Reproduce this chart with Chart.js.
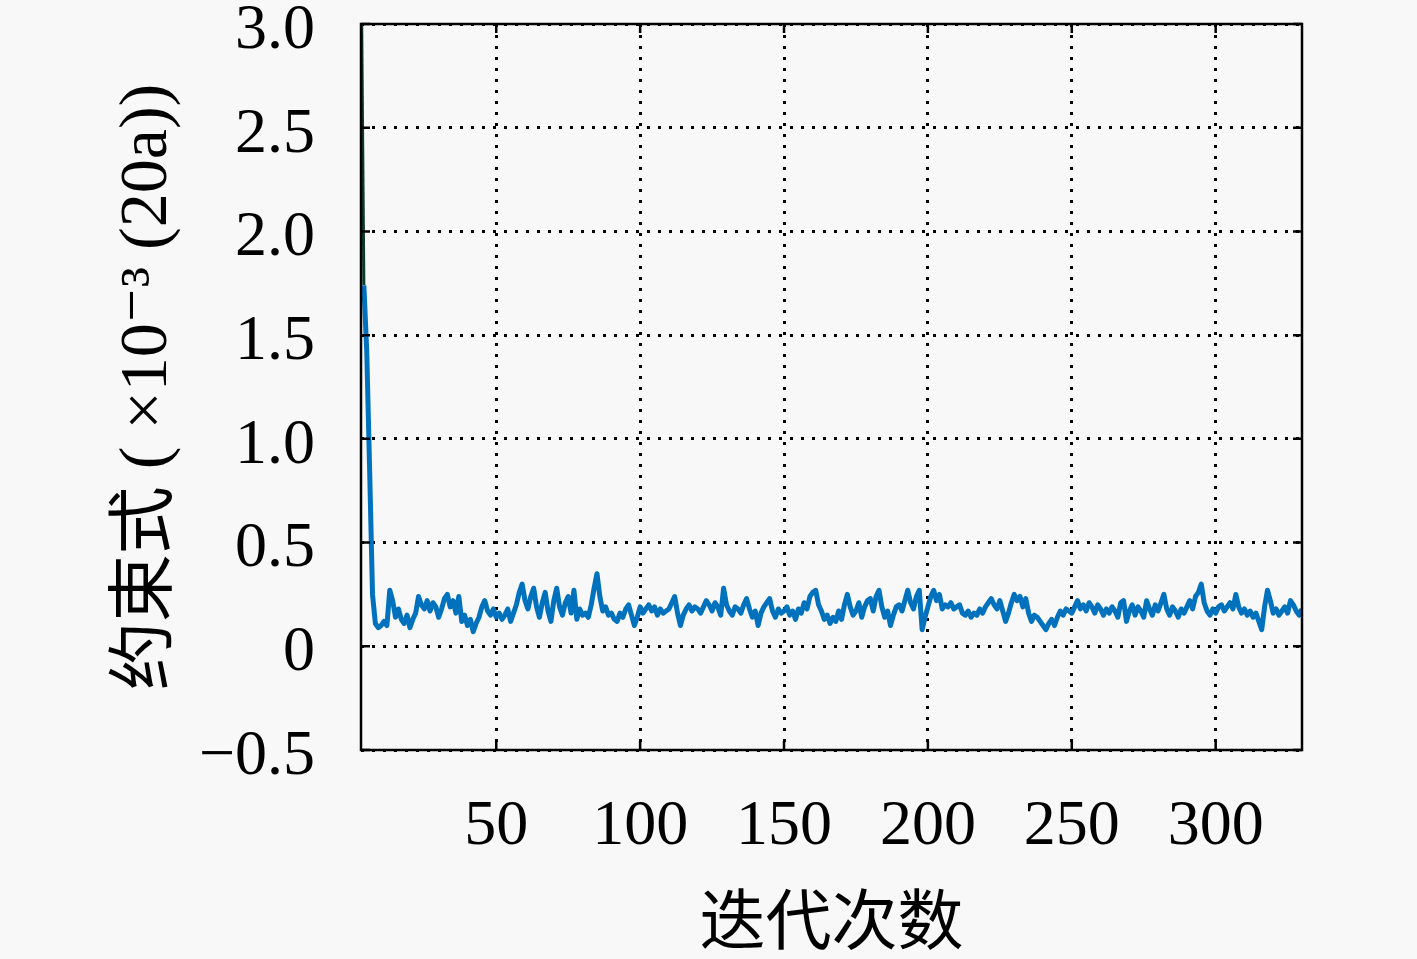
<!DOCTYPE html>
<html>
<head>
<meta charset="utf-8">
<script src="https://cdn.jsdelivr.net/npm/chart.js@4"></script>
<style>
html,body{margin:0;padding:0;background:#f8f8f8;}
#wrap{width:1417px;height:959px;}
</style>
</head>
<body>
<div id="wrap"><canvas id="c" width="1417" height="959"></canvas></div>
<script>
const firstIteration = 3;
const constraintValues = [
  3.4, 1.74, 1.42, 0.85, 0.25, 0.11, 0.09, 0.10,
  0.12, 0.10, 0.27, 0.22, 0.14, 0.18, 0.13, 0.11, 0.15, 0.09,
  0.13, 0.16, 0.24, 0.20, 0.18, 0.22, 0.17, 0.21, 0.19, 0.14,
  0.18, 0.23, 0.25, 0.19, 0.22, 0.16, 0.24, 0.12, 0.15, 0.10,
  0.13, 0.07, 0.11, 0.14, 0.19, 0.22, 0.17, 0.15, 0.18, 0.14,
  0.16, 0.13, 0.15, 0.18, 0.12, 0.16, 0.20, 0.26, 0.30, 0.22,
  0.18, 0.24, 0.28, 0.19, 0.14, 0.21, 0.26, 0.17, 0.12, 0.22,
  0.28, 0.19, 0.15, 0.21, 0.24, 0.16, 0.27, 0.13, 0.18, 0.15,
  0.16, 0.14, 0.20, 0.28, 0.35, 0.24, 0.17, 0.19, 0.15, 0.16,
  0.13, 0.12, 0.16, 0.14, 0.18, 0.20, 0.15, 0.10, 0.14, 0.19,
  0.16, 0.18, 0.20, 0.17, 0.19, 0.15, 0.18, 0.16, 0.17, 0.18,
  0.21, 0.24, 0.16, 0.10, 0.15, 0.18, 0.20, 0.17, 0.19, 0.18,
  0.16, 0.19, 0.22, 0.20, 0.17, 0.21, 0.19, 0.15, 0.28, 0.20,
  0.17, 0.15, 0.19, 0.18, 0.16, 0.20, 0.23, 0.18, 0.14, 0.17,
  0.10, 0.16, 0.19, 0.21, 0.23, 0.17, 0.14, 0.18, 0.16, 0.17,
  0.19, 0.15, 0.17, 0.13, 0.18, 0.16, 0.21, 0.18, 0.24, 0.26,
  0.27, 0.20, 0.17, 0.13, 0.15, 0.11, 0.14, 0.12, 0.17, 0.13,
  0.20, 0.25, 0.19, 0.15, 0.17, 0.21, 0.14, 0.19, 0.22, 0.23,
  0.17, 0.24, 0.27, 0.19, 0.14, 0.17, 0.10, 0.15, 0.19, 0.20,
  0.17, 0.22, 0.27, 0.21, 0.18, 0.24, 0.27, 0.08, 0.14, 0.19,
  0.24, 0.27, 0.22, 0.25, 0.18, 0.20, 0.19, 0.21, 0.18, 0.19,
  0.20, 0.16, 0.15, 0.17, 0.14, 0.16, 0.15, 0.18, 0.16, 0.19,
  0.21, 0.23, 0.20, 0.18, 0.22, 0.17, 0.12, 0.16, 0.21, 0.25,
  0.22, 0.24, 0.19, 0.23, 0.16, 0.12, 0.15, 0.14, 0.12, 0.10,
  0.08, 0.11, 0.13, 0.10, 0.14, 0.17, 0.15, 0.18, 0.17, 0.16,
  0.19, 0.22, 0.18, 0.20, 0.17, 0.21, 0.19, 0.16, 0.20, 0.18,
  0.15, 0.18, 0.16, 0.19, 0.17, 0.14, 0.21, 0.22, 0.12, 0.17,
  0.20, 0.15, 0.19, 0.17, 0.14, 0.22, 0.18, 0.15, 0.20, 0.17,
  0.21, 0.25, 0.18, 0.15, 0.19, 0.17, 0.14, 0.18, 0.16, 0.19,
  0.22, 0.18, 0.24, 0.26, 0.30, 0.21, 0.17, 0.15, 0.18, 0.16,
  0.19, 0.20, 0.17, 0.19, 0.21, 0.18, 0.25, 0.19, 0.16, 0.18,
  0.15, 0.17, 0.14, 0.16, 0.12, 0.08, 0.19, 0.27, 0.22, 0.16,
  0.18, 0.15, 0.17, 0.19, 0.16, 0.22, 0.20, 0.17, 0.15, 0.18
];
const iterations = constraintValues.map((_, i) => firstIteration + i);
const xTickValues = [50, 100, 150, 200, 250, 300];
const yTickValues = [-0.5, 0, 0.5, 1.0, 1.5, 2.0, 2.5, 3.0];
const xRange = [3, 330];
const yRange = [-0.5, 3.0];
const xTitle = '迭代次数';
const yTitle = '约束式 ( ×10⁻³ (20a))';

const serif = '"Liberation Serif", "DejaVu Serif", "Noto Sans CJK SC", serif';

const framePlugin = {
  id: 'frame',
  afterDatasetsDraw(chart) {
    const {ctx, chartArea: a, scales} = chart;
    ctx.save();
    ctx.setLineDash([]);
    ctx.strokeStyle = '#000';
    ctx.lineWidth = 2.5;
    ctx.strokeRect(a.left, a.top, a.right - a.left, a.bottom - a.top);
    const tl = 9;
    xTickValues.forEach(v => {
      const x = scales.x.getPixelForValue(v);
      ctx.beginPath();
      ctx.moveTo(x, a.bottom); ctx.lineTo(x, a.bottom - tl);
      ctx.moveTo(x, a.top); ctx.lineTo(x, a.top + tl);
      ctx.stroke();
    });
    yTickValues.forEach(v => {
      const y = scales.y.getPixelForValue(v);
      ctx.beginPath();
      ctx.moveTo(a.left, y); ctx.lineTo(a.left + tl, y);
      ctx.moveTo(a.right, y); ctx.lineTo(a.right - tl, y);
      ctx.stroke();
    });
    ctx.restore();
  }
};

const bgPlugin = {
  id: 'bg',
  beforeDraw(chart) {
    const {ctx, width, height} = chart;
    ctx.save();
    ctx.fillStyle = '#f8f8f8';
    ctx.fillRect(0, 0, width, height);
    ctx.restore();
  }
};

new Chart(document.getElementById('c'), {
  type: 'line',
  data: {
    datasets: [{
      data: iterations.map((x, i) => ({x: x, y: constraintValues[i]})),
      borderColor: '#0072BD',
      borderWidth: 5,
      borderJoinStyle: 'round',
      pointRadius: 0,
      tension: 0,
      segment: {
        borderColor: ctx => ctx.p0DataIndex === 0 ? '#0d3b2a' : undefined,
        borderWidth: ctx => ctx.p0DataIndex === 0 ? 3 : undefined
      }
    }]
  },
  options: {
    responsive: false,
    animation: false,
    devicePixelRatio: 1,
    layout: {padding: {left: 107, top: 24, right: 115, bottom: 0}},
    plugins: {legend: {display: false}, tooltip: {enabled: false}},
    scales: {
      x: {
        type: 'linear',
        min: xRange[0], max: xRange[1],
        afterBuildTicks: s => { s.ticks = xTickValues.map(v => ({value: v})); },
        afterFit: s => { s.height = 209; s.paddingLeft = 0; s.paddingRight = 0; },
        grid: {color: '#000', lineWidth: 3, drawTicks: false},
        border: {display: false, dash: [3, 8]},
        ticks: {
          color: '#000', padding: 39, maxRotation: 0, autoSkip: false,
          font: {family: serif, size: 64},
          callback: v => String(v)
        },
        title: {display: true, text: xTitle, color: '#000', padding: {top: 0, bottom: 0},
          font: {family: '"Noto Sans CJK SC", serif', size: 66}}
      },
      y: {
        min: yRange[0], max: yRange[1],
        afterBuildTicks: s => { s.ticks = yTickValues.map(v => ({value: v})); },
        afterFit: s => { s.width = 254; s.paddingTop = 0; s.paddingBottom = 0; },
        grid: {color: '#000', lineWidth: 3, drawTicks: false},
        border: {display: false, dash: [3, 8]},
        ticks: {
          color: '#000', padding: 46, autoSkip: false, labelOffset: 7,
          font: {family: serif, size: 64},
          callback: v => v === 0 ? '0' : (v < 0 ? '\u2212' + Math.abs(v).toFixed(1) : v.toFixed(1))
        },
        title: {display: true, text: yTitle, color: '#000', padding: {top: 0, bottom: 0},
          font: {family: serif, size: 68}}
      }
    }
  },
  plugins: [bgPlugin, framePlugin]
});
</script>
</body>
</html>
